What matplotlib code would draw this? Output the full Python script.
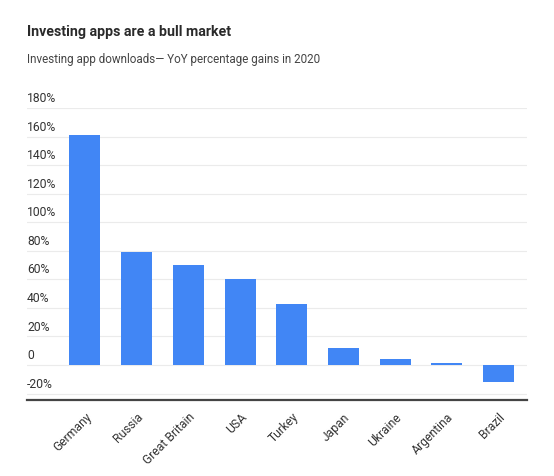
import matplotlib
matplotlib.use("Agg")
import matplotlib.pyplot as plt
from matplotlib import transforms

# data
countries = ["Germany", "Russia", "Great Britain", "USA", "Turkey",
             "Japan", "Ukraine", "Argentina", "Brazil"]
gains = [161, 79, 70, 60, 43, 12, 4, 1.3, -12]
ytick_vals = [-20, 0, 20, 40, 60, 80, 100, 120, 140, 160, 180]
ytick_labels = ["-20%", "0", "20%", "40%", "60%", "80%", "100%",
                "120%", "140%", "160%", "180%"]

plt.rcParams['font.family'] = ['Roboto', 'DejaVu Sans']

fig = plt.figure(figsize=(5.54, 4.77), dpi=100)
ax = fig.add_axes([0.0487, 0.1593, 0.9026, 0.6122])

x = range(len(countries))
ax.bar(x, gains, width=0.6, color="#4186F5", zorder=3)

ax.set_xlim(-1.12, 8.55)
ax.set_ylim(-24.5, 180)

# light horizontal gridlines, labels sit on top of them at the left
for v in ytick_vals:
    ax.axhline(v, color="#EBEBEB", lw=0.8, zorder=1)
lab_tr = transforms.blended_transform_factory(ax.transAxes, ax.transData)
for v, s in zip(ytick_vals, ytick_labels):
    ax.annotate(s, xy=(0, v), xycoords=lab_tr, xytext=(0, 2.8),
                textcoords="offset points", ha="left", va="bottom",
                fontsize=8.7, color="#333333")

ax.set_yticks([])
ax.set_xticks(list(x))
ax.set_xticklabels(countries, rotation=45, ha="right",
                   rotation_mode="anchor", fontsize=8.7, color="#333333")
ax.tick_params(axis="x", length=0, pad=7)

for side in ["top", "right", "left"]:
    ax.spines[side].set_visible(False)
ax.spines["bottom"].set_color("#444444")
ax.spines["bottom"].set_linewidth(1.6)
ax.spines["bottom"].set_zorder(4)

fig.text(0.0487, 0.9245, "Investing apps are a bull market",
         fontsize=10.2, fontweight="bold", color="#2A2A2A", va="baseline")
fig.text(0.0487, 0.868, "Investing app downloads\u2014 YoY percentage gains in 2020",
         fontsize=8.4, color="#444444", va="baseline")

fig.savefig("out.png", dpi=100, facecolor="white")
